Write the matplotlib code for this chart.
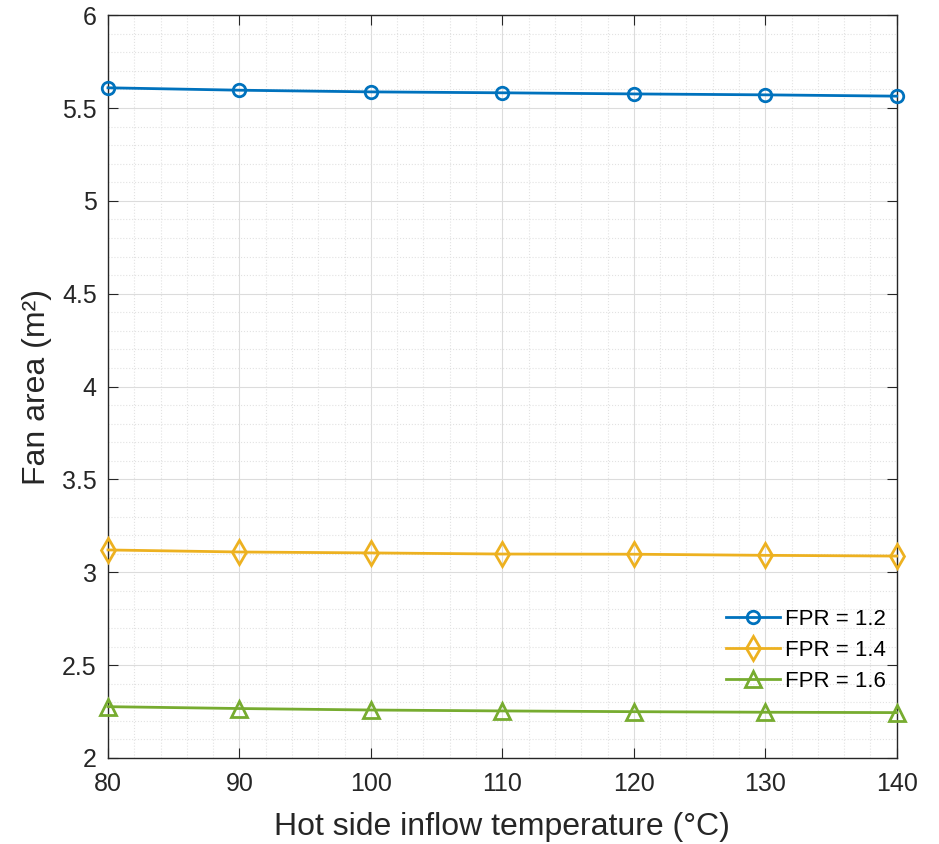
import numpy as np
import matplotlib.pyplot as plt
from matplotlib.ticker import MultipleLocator

temp = [80, 90, 100, 110, 120, 130, 140]
fan_area_12 = [5.609, 5.596, 5.587, 5.582, 5.576, 5.571, 5.564]
fan_area_14 = [3.120, 3.109, 3.104, 3.098, 3.097, 3.091, 3.087]
fan_area_16 = [2.276, 2.266, 2.258, 2.253, 2.249, 2.246, 2.244]
labels = ['FPR = 1.2', 'FPR = 1.4', 'FPR = 1.6']

plt.rcParams['font.family'] = ['Liberation Sans', 'DejaVu Sans']

fig = plt.figure(figsize=(9.39, 8.44), dpi=100)
ax = fig.add_axes([0.115, 0.102, 0.840, 0.880])

ax.plot(temp, fan_area_12, color='#0072BD', lw=2, marker='o', ms=9, mfc='none', mew=2,
        label=labels[0], clip_on=False, zorder=3)
ax.plot(temp, fan_area_14, color='#EDB120', lw=2, marker='d', ms=12, mfc='none', mew=2,
        label=labels[1], clip_on=False, zorder=3)
ax.plot(temp, fan_area_16, color='#77AC30', lw=2, marker='^', ms=11, mfc='none', mew=2,
        label=labels[2], clip_on=False, zorder=3)

ax.set_xlim(80, 140)
ax.set_ylim(2, 6)
ax.xaxis.set_major_locator(MultipleLocator(10))
ax.xaxis.set_minor_locator(MultipleLocator(2))
ax.yaxis.set_major_locator(MultipleLocator(0.5))
ax.yaxis.set_minor_locator(MultipleLocator(0.1))
ax.yaxis.set_major_formatter(plt.FuncFormatter(lambda v, p: f'{v:g}'))

ax.grid(which='major', color='#dcdcdc', lw=0.8, ls='-')
ax.grid(which='minor', color='#e2e2e2', lw=0.8, ls=':')
ax.set_axisbelow(True)

ax.tick_params(which='both', direction='in', labelsize=18, colors='#262626')
ax.tick_params(which='minor', length=0)
ax.tick_params(which='major', length=7, top=True, right=True)
ax.tick_params(axis='x', pad=10)
ax.tick_params(axis='y', pad=8)
for s in ax.spines.values():
    s.set_color('#262626')
    s.set_linewidth(1)

ax.set_xlabel('Hot side inflow temperature (°C)', fontsize=23, color='#262626', labelpad=12)
ax.set_ylabel('Fan area (m²)', fontsize=23, color='#262626', labelpad=7)

ax.legend(loc='lower right', bbox_to_anchor=(1.012, 0.062), frameon=False, fontsize=16,
          handlelength=2.4, handletextpad=0.25, labelspacing=0.45)

fig.savefig('out.png', dpi=100)
